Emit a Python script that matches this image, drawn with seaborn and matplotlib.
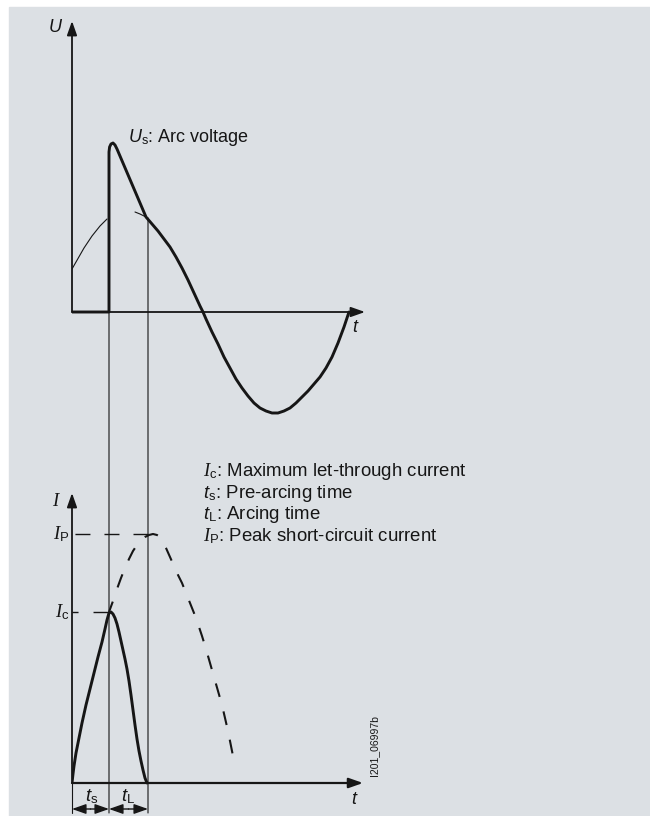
import numpy as np
import matplotlib.pyplot as plt
import seaborn as sns
from matplotlib.patches import ConnectionPatch

# ---- figure / style ----
W, H = 650, 816
BG = "#dce0e4"
INK = "#161616"

sns.set_theme(style="white")
plt.rcParams["font.family"] = ["Liberation Sans", "DejaVu Sans"]
plt.rcParams["mathtext.fontset"] = "custom"
plt.rcParams["mathtext.rm"] = "Liberation Sans"
plt.rcParams["mathtext.it"] = "Liberation Serif:italic"
plt.rcParams["mathtext.sf"] = "Liberation Sans:italic"

# ---- data (time t, voltage U, current I; arbitrary units) ----
# upper diagram: prospective voltage (thin) and real voltage with arc (bold)
u_thin_a_t = [0, 4, 8, 12, 16, 20, 24, 28, 32, 35]
u_thin_a = [43, 50, 57, 64, 70, 76, 81, 86, 90, 93]
u_thin_b_t = [63, 68, 74]
u_thin_b = [100, 98, 95]

u_arc_t = [0, 37, 37, 37.6, 39, 41, 43, 45, 74, 80, 86, 92, 98, 104, 110, 116,
           122, 128, 131, 134, 140, 146, 152, 158, 164, 170, 176, 182, 188, 194,
           200, 203, 206, 212, 218, 224, 230, 236, 242, 248, 254, 260, 266, 272, 277]
u_arc = [0, 0, 160, 165, 168, 169, 167, 163, 95, 88, 81, 73, 65, 55, 44, 32,
         19, 6, 0, -7, -20, -32, -45, -56, -67, -76, -84, -91, -96, -99,
         -101, -101, -101, -99, -96, -91, -85, -79, -72, -65, -56, -45, -31, -15, 0]

# lower diagram: let-through current (bold) and prospective current (dashed)
i_cut_t = [0, 1, 2, 4, 7, 10, 14, 18, 22, 26, 30, 33, 35, 37, 39, 41, 43, 45, 47,
           49, 51, 53, 55, 57, 59, 61, 63, 65, 67, 69, 71, 73, 75]
i_cut = [0, 9, 17, 30, 45, 60, 78, 94, 110, 126, 141, 154, 163, 170, 171, 169, 165,
         159, 151, 142, 133, 124, 114, 102, 88, 73, 58, 44, 32, 22, 13, 5, 0]

i_pro_t = [37, 41, 45, 49, 53, 57, 61, 65, 69, 73, 77, 81, 85, 88, 91, 94, 98, 102,
           106, 110, 114, 118, 122, 126, 130, 134, 138, 142, 146, 150, 153, 156,
           159, 161, 163]
i_pro = [171, 182, 194, 205, 215, 224, 232, 238, 243, 246, 248, 249, 248, 246, 241,
         235, 226, 217, 208, 200, 190, 180, 170, 159, 147, 134, 120, 106, 92, 78,
         65, 52, 37, 27, 15]

t_s, t_L = 37, 76          # end of pre-arcing time, end of arcing time
i_c, i_p = 171, 249        # let-through current, peak short-circuit current

legend_lines = [
    r"$\mathit{I}_{\mathrm{c}}$: Maximum let-through current",
    r"$\mathsf{t}_{\mathrm{s}}$: Pre-arcing time",
    r"$\mathsf{t}_{\mathrm{L}}$: Arcing time",
    r"$\mathit{I}_{\mathrm{P}}$: Peak short-circuit current",
]


def panel(fig, px0, px1, py_top, py_bot, xlim, ylim):
    ax = fig.add_axes([px0 / W, 1 - py_bot / H, (px1 - px0) / W, (py_bot - py_top) / H])
    ax.set_xlim(*xlim)
    ax.set_ylim(*ylim)
    ax.axis("off")
    return ax


def arrow(ax, start, end, lw=1.3, style="-|>"):
    ax.annotate("", xy=end, xytext=start,
                arrowprops=dict(arrowstyle=style + ",head_length=0.85,head_width=0.3",
                                mutation_scale=10, lw=lw, color=INK,
                                shrinkA=0, shrinkB=0))


fig = plt.figure(figsize=(W / 100, H / 100), dpi=100)
fig.patch.set_facecolor("white")
fig.add_artist(plt.Rectangle((9 / W, 0), 641 / W, 809 / H,
                             transform=fig.transFigure, color=BG, zorder=0))

ax_u = panel(fig, 72, 372, 12, 432, (0, 300), (-120, 300))
ax_i = panel(fig, 72, 372, 483, 823, (0, 300), (-40, 300))

# ---- upper diagram ----
arrow(ax_u, (0, 0), (0, 291))
arrow(ax_u, (0, 0), (293, 0))
sns.lineplot(x=u_thin_a_t, y=u_thin_a, ax=ax_u, sort=False, estimator=None,
             color=INK, lw=0.8)
sns.lineplot(x=u_thin_b_t, y=u_thin_b, ax=ax_u, sort=False, estimator=None,
             color=INK, lw=0.8)
sns.lineplot(x=u_arc_t, y=u_arc, ax=ax_u, sort=False, estimator=None,
             color=INK, lw=2.1, solid_joinstyle="round", solid_capstyle="round")

ax_u.text(-17, 285, "U", fontsize=13, style="italic", ha="center", va="center",
          color=INK)
ax_u.text(283, -16, "t", fontsize=13, style="italic", ha="center", va="center",
          color=INK)
ax_u.text(56, 175, r"$\mathsf{U}_{\mathrm{s}}$: Arc voltage", fontsize=13,
          ha="left", va="center", color=INK)

# ---- lower diagram ----
arrow(ax_i, (0, 0), (0, 290))
arrow(ax_i, (0, 0), (291, 0), lw=1.6)
ax_i.plot([t_L, 0], [i_p, i_p], color=INK, lw=1.0, linestyle=(0, (10.8, 10.1)))
ax_i.plot([t_s, 0], [i_c, i_c], color=INK, lw=1.0, linestyle=(0, (11.5, 10.8)))
sns.lineplot(x=i_pro_t, y=i_pro, ax=ax_i, sort=False, estimator=None,
             color=INK, lw=1.5, linestyle=(1.4, (6.7, 7.2)))
sns.lineplot(x=i_cut_t, y=i_cut, ax=ax_i, sort=False, estimator=None,
             color=INK, lw=2.1, solid_joinstyle="round")

# extension lines that tie both diagrams together
for t0, u0 in [(t_s, 0), (t_L, 94)]:
    fig.add_artist(ConnectionPatch(xyA=(t0, u0), coordsA=ax_u.transData,
                                   xyB=(t0, -30), coordsB=ax_i.transData,
                                   color=INK, lw=0.8))
ax_i.plot([0, 0], [0, -30], color=INK, lw=0.8, clip_on=False)
arrow(ax_i, (t_s / 2, -26), (0, -26), lw=1.0)
arrow(ax_i, (t_s / 2, -26), (t_s, -26), lw=1.0)
arrow(ax_i, ((t_s + t_L) / 2, -26), (t_s, -26), lw=1.0)
arrow(ax_i, ((t_s + t_L) / 2, -26), (t_L, -26), lw=1.0)

ax_i.text(-15, 281, r"$\mathit{I}$", fontsize=13.5, ha="center", va="center", color=INK)
ax_i.text(-3, i_p, r"$\mathit{I}_{\mathrm{P}}$", fontsize=13.5, ha="right", va="center", color=INK)
ax_i.text(-3, i_c, r"$\mathit{I}_{\mathrm{c}}$", fontsize=13.5, ha="right", va="center", color=INK)
ax_i.text(20, -14, r"$\mathsf{t}_{\mathrm{s}}$", fontsize=13.5, ha="center", va="center", color=INK)
ax_i.text(56, -14, r"$\mathsf{t}_{\mathrm{L}}$", fontsize=13.5, ha="center", va="center", color=INK)
ax_i.text(282, -17, "t", fontsize=13, style="italic", ha="center", va="center",
          color=INK)

for k, line in enumerate(legend_lines):
    ax_i.text(131, 311 - k * 21.3, line, fontsize=13.4, ha="left", va="center", color=INK)

ax_i.text(302, 37, "I201_06997b", fontsize=7.5, rotation=90, ha="center", va="center",
          color=INK)

fig.savefig("out.png", dpi=100, facecolor="white")
